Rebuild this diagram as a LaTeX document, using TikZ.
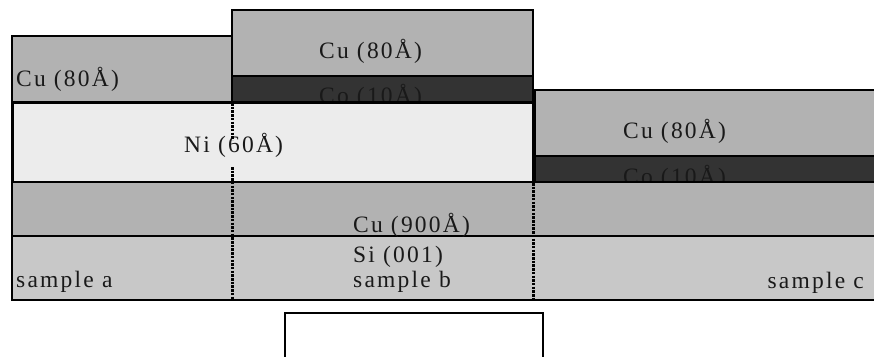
\documentclass[tikz,border=0pt]{standalone}
\usepackage{fontspec}
\setmainfont{Liberation Serif}[LetterSpace=9.5]
\definecolor{cufill}{gray}{0.70}
\definecolor{cofill}{gray}{0.20}
\definecolor{nifill}{gray}{0.925}
\definecolor{sifill}{gray}{0.785}
\begin{document}
\begin{tikzpicture}[x=1pt,y=-1pt,
  layer/.style={draw=black,line width=2.5pt},
  lbl/.style={inner sep=0pt,font=\fontsize{23.5}{26}\selectfont,text=black!90},
  divider/.style={line width=3pt,dash pattern=on 2.5pt off 1.2pt}]
\useasboundingbox (0,0) rectangle (874,356);
% sample b top layers
\filldraw[layer,fill=cufill] (232,10) rectangle (533,76);
\node[lbl,anchor=base west] (cub) at (319,58) {Cu (80Å)};
\filldraw[layer,fill=cofill] (232,76) rectangle (533,102);
\node[lbl,anchor=base west] (cob) at (319,103) {Co (10Å)};
% sample c top layers
\filldraw[layer,fill=cufill] (535,90) rectangle (880,156);
\node[lbl,anchor=base west] (cuc) at (623,138.5) {Cu (80Å)};
\filldraw[layer,fill=cofill] (535,156) rectangle (880,182);
\node[lbl,anchor=base west] (coc) at (623,184) {Co (10Å)};
% sample a top layer
\filldraw[layer,fill=cufill] (12,36) rectangle (232,102);
\node[lbl,anchor=base west] (cua) at (16,86) {Cu (80Å)};
% Ni layer
\filldraw[layer,line width=3pt,fill=nifill] (12,102) rectangle (533,182);
\node[lbl,anchor=base west] (ni) at (184,152.5) {Ni (60Å)};
% Cu 900 and Si
\filldraw[layer,fill=cufill] (12,182) rectangle (880,236);
\filldraw[layer,fill=sifill] (12,236) rectangle (880,300);
\node[lbl,anchor=base west] (cu900) at (353,232) {Cu (900Å)};
\node[lbl,anchor=base west] (si) at (353,262.5) {Si (001)};
\node[lbl,anchor=base west] (sa) at (16,287) {sample a};
\node[lbl,anchor=base west] (sb) at (353,287) {sample b};
\node[lbl,anchor=base east] (sc) at (864,288) {sample c};
% dividers
\coordinate (d1a) at (232,103);
\coordinate (d1b) at (232,140);
\coordinate (d1c) at (232,167);
\coordinate (d1d) at (232,300);
\coordinate (d2a) at (533,183);
\coordinate (d2b) at (533,300);
\draw[divider] (d1a) -- (d1b);
\draw[divider] (d1c) -- (d1d);
\draw[divider] (d2a) -- (d2b);
% empty box below
\draw[line width=2.5pt] (285,313) rectangle (543,370);
\end{tikzpicture}
\end{document}
